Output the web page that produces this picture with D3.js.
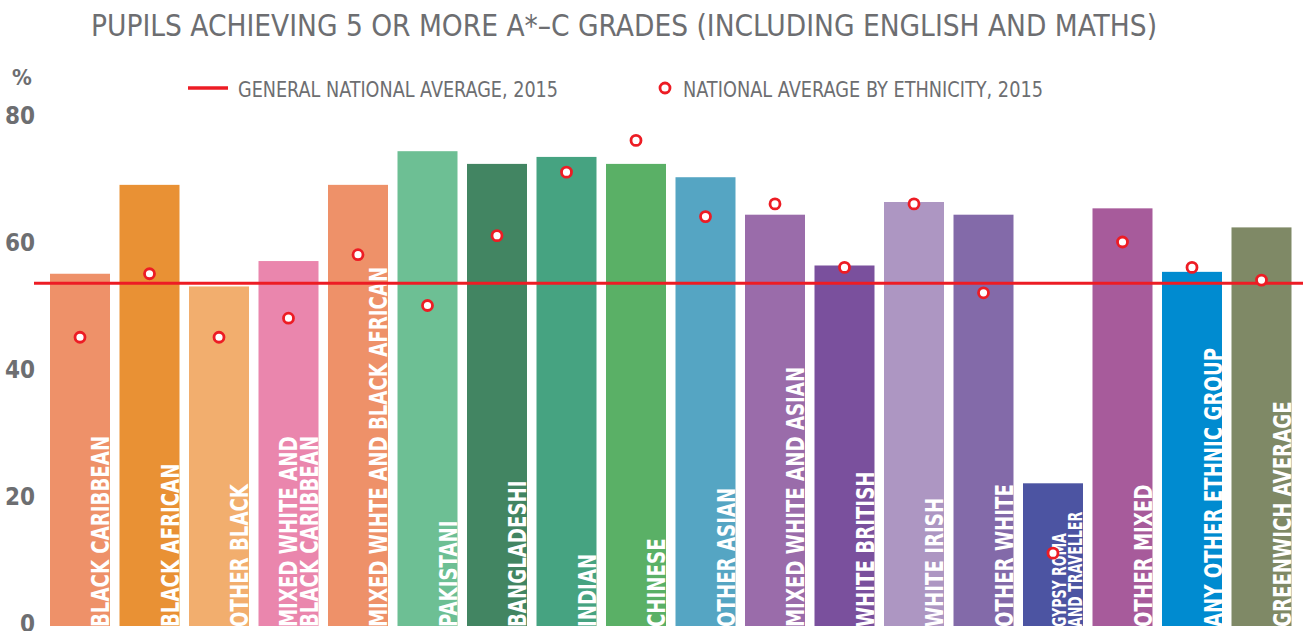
<!DOCTYPE html>
<html><head><meta charset="utf-8">
<script src="https://cdn.jsdelivr.net/npm/d3@7"></script>
<style>
html,body{margin:0;padding:0;background:#fff;}
svg{display:block;}
</style></head>
<body>
<svg id="chart" width="1303" height="631"></svg>
<script>
const categories = [
  ["BLACK CARIBBEAN"], ["BLACK AFRICAN"], ["OTHER BLACK"],
  ["MIXED WHITE AND", "BLACK CARIBBEAN"], ["MIXED WIHTE AND BLACK AFRICAN"],
  ["PAKISTANI"], ["BANGLADESHI"], ["INDIAN"], ["CHINESE"], ["OTHER ASIAN"],
  ["MIXED WHITE AND ASIAN"], ["WHITE BRITISH"], ["WHITE IRISH"], ["OTHER WHITE"],
  ["GYPSY ROMA", "AND TRAVELLER"], ["OTHER MIXED"], ["ANY OTHER ETHNIC GROUP"], ["GREENWICH AVERAGE"]
];
const greenwichValues = [55, 69, 53, 57, 69, 74.3, 72.3, 73.4, 72.3, 70.2, 64.3, 56.3, 66.3, 64.3, 22, 65.3, 55.3, 62.3];
const nationalByEthnicity = [45, 55, 45, 48, 58, 50, 61, 71, 76, 64, 66, 56, 66, 52, 11, 60, 56, 54];
const generalNationalAverage = 53.5;
const barColors = ["#ee9169", "#e99134", "#f2ae6e", "#ea86ad", "#ee9169", "#6dbf94", "#428562", "#46a381", "#5ab066", "#55a5c3",
  "#9a6caa", "#7a509d", "#ad96c2", "#836aa9", "#4c54a2", "#a75b9b", "#008bd0", "#7f8966"];
const yTicks = [0, 20, 40, 60, 80];
const titleText = "PUPILS ACHIEVING 5 OR MORE A*–C GRADES (INCLUDING ENGLISH AND MATHS)";
const legendLabels = ["GENERAL NATIONAL AVERAGE, 2015", "NATIONAL AVERAGE BY ETHNICITY, 2015"];

const GRAY = "#6d6e71", RED = "#ed1c24";
const FONT = "'Liberation Sans Narrow', 'DejaVu Sans Condensed', 'Arial Narrow', sans-serif";

const svg = d3.select("#chart");
const idx = d3.range(categories.length);
const x = d3.scaleBand().domain(idx).range([50, 1291.5]).paddingInner(0.1367).paddingOuter(0);
const y = d3.scaleLinear().domain([0, 80]).range([623, 115]);

// title
svg.append("text").attr("x", 91).attr("y", 36)
  .attr("font-family", FONT).attr("font-size", 30).attr("fill", GRAY)
  .attr("textLength", 1066).attr("lengthAdjust", "spacingAndGlyphs")
  .text(titleText);

// y axis label & ticks
svg.append("text").attr("x", 12).attr("y", 85)
  .attr("font-family", FONT).attr("font-weight", "bold").attr("font-size", 22).attr("fill", GRAY).text("%");
svg.append("g").selectAll("text").data(yTicks).join("text")
  .attr("x", 35).attr("y", d => y(d) + 9)
  .attr("text-anchor", "end")
  .attr("font-family", FONT).attr("font-weight", "bold").attr("font-size", 24).attr("fill", GRAY)
  .text(d => d);

// legend
const lg = svg.append("g");
lg.append("line").attr("x1", 188).attr("x2", 228).attr("y1", 88).attr("y2", 88)
  .attr("stroke", RED).attr("stroke-width", 3.5);
lg.append("text").attr("x", 238).attr("y", 97)
  .attr("font-family", FONT).attr("font-size", 21).attr("fill", GRAY)
  .attr("textLength", 320).attr("lengthAdjust", "spacingAndGlyphs")
  .text(legendLabels[0]);
lg.append("circle").attr("cx", 665).attr("cy", 88).attr("r", 5)
  .attr("fill", "#fff").attr("stroke", RED).attr("stroke-width", 2.8);
lg.append("text").attr("x", 683).attr("y", 97)
  .attr("font-family", FONT).attr("font-size", 21).attr("fill", GRAY)
  .attr("textLength", 360).attr("lengthAdjust", "spacingAndGlyphs")
  .text(legendLabels[1]);

// bars
svg.append("g").selectAll("rect").data(idx).join("rect")
  .attr("x", i => x(i)).attr("width", x.bandwidth())
  .attr("y", i => y(greenwichValues[i]))
  .attr("height", i => y(0) - y(greenwichValues[i]) + 3)
  .attr("fill", i => barColors[i]);

// bar labels
const labG = svg.append("g");
idx.forEach(i => {
  const lines = categories[i];
  const small = i === 14;
  const fs = small ? 19.5 : 25;
  const lh = small ? 16 : 20.5;
  const sc = small ? 0.72 : 0.81;
  const right = x(i) + x.bandwidth() - 0.5;
  lines.forEach((ln, k) => {
    const bx = right - (lines.length - 1 - k) * lh;
    labG.append("text")
      .attr("transform", `translate(${bx},${y(0) + 4}) rotate(-90) scale(${sc},1)`)
      .attr("font-family", FONT).attr("font-weight", "bold").attr("font-size", fs)
      .attr("fill", "#fff")
      .text(ln);
  });
});

// general national average line
svg.append("line").attr("x1", 34).attr("x2", 1303)
  .attr("y1", y(generalNationalAverage)).attr("y2", y(generalNationalAverage))
  .attr("stroke", RED).attr("stroke-width", 3);

// national average by ethnicity dots
svg.append("g").selectAll("circle").data(idx).join("circle")
  .attr("cx", i => x(i) + x.bandwidth() / 2)
  .attr("cy", i => y(nationalByEthnicity[i]))
  .attr("r", 5)
  .attr("fill", "#fff").attr("stroke", RED).attr("stroke-width", 2.8);
</script>
</body></html>
